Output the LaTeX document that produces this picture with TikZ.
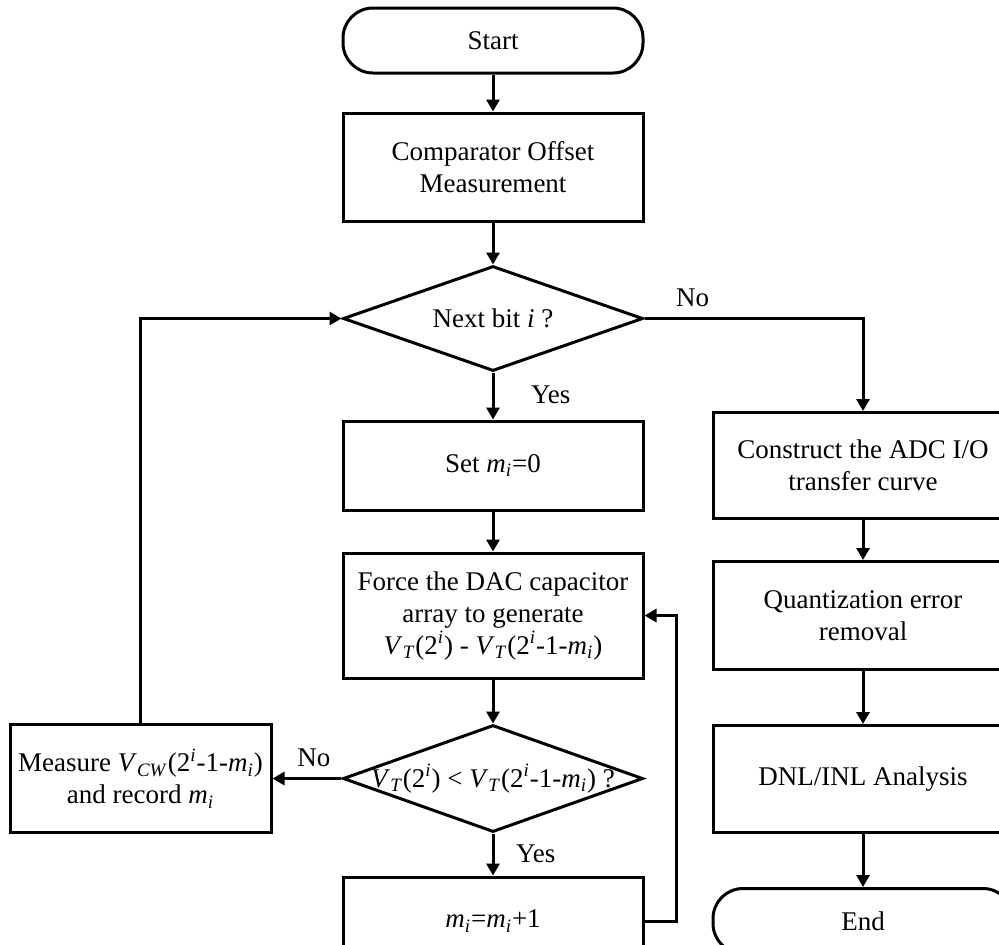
\documentclass[tikz,border=0pt]{standalone}
\usepackage{fontspec}
\setmainfont{Liberation Serif}
\usetikzlibrary{arrows.meta, positioning, shapes.geometric}

\newcommand{\mvar}{\textit{m}\textsubscript{\textit{i}}}
\newcommand{\vtvar}{\textit{V}\textsubscript{\textit{T}}}
\newcommand{\vcwvar}{\textit{V}\textsubscript{\textit{CW}}}
\newcommand{\twoi}{2\textsuperscript{\textit{i}}}

\begin{document}
\begin{tikzpicture}[line width=1.5pt, font=\fontsize{13.5}{16}\selectfont,
    procbox/.style={rectangle, draw, minimum width=150pt, inner sep=2pt, align=center},
    termbox/.style={rectangle, draw, rounded corners=15pt, minimum width=150pt, minimum height=32.5pt, align=center},
    decbox/.style={diamond, draw, minimum width=150pt, minimum height=52.5pt, shape aspect=2.86, inner xsep=-4pt, inner ysep=0pt, align=center},
    flow/.style={-{Triangle[length=6pt, width=6.5pt]}}]
    \useasboundingbox (0,0) rectangle (499.5pt,-472pt);
    \clip (0,0) rectangle (499.5pt,-472pt);

    % Start
    \node[termbox] (start) at (246.5pt,-20.25pt) {Start};

    % Offset measurement
    \node[procbox, minimum height=54pt, below=18.5pt of start] (offset) {Comparator Offset\\Measurement};
    \draw[flow] (start) -- (offset);

    % Bit loop
    \node[decbox, below=21pt of offset] (nextbit) {Next bit \textit{i} ?};
    \draw[flow] (offset) -- (nextbit);

    \node[procbox, minimum height=44.5pt, below=23.5pt of nextbit] (setm) {Set \mvar=0};
    \draw[flow] (nextbit) -- node[pos=0.47, right=15pt] {Yes} (setm);

    \node[procbox, minimum height=62.5pt, below=20pt of setm] (force) {Force the DAC capacitor\\array to generate\\\vtvar(\twoi) - \vtvar(\twoi-1-\mvar)};
    \draw[flow] (setm) -- (force);

    \node[decbox, minimum height=53.5pt, inner xsep=-17pt, below=22pt of force] (compare) {\vtvar(\twoi) < \vtvar(\twoi-1-\mvar) ?};
    \draw[flow] (force) -- (compare);

    \node[procbox, minimum height=44pt, below=21pt of compare] (incm) {\mvar=\mvar+1};
    \draw[flow] (compare) -- node[pos=0.48, right=7.5pt] {Yes} (incm);
    \draw[flow] (incm.east) -- ++(16pt,0) |- (force.east);

    \node[procbox, minimum width=130.5pt, minimum height=54pt, left=34.5pt of compare] (measure) {Measure \vcwvar(\twoi-1-\mvar)\\and record \mvar};
    \draw[flow] (compare) -- node[pos=0.4, above=2pt] {No} (measure);
    \draw[flow] (measure) |- (nextbit.west);

    % Curve and analysis
    \node[procbox, minimum height=53pt, right=33.5pt of setm] (curve) {Construct the ADC I/O\\transfer curve};
    \draw[flow] (nextbit.east) -| node[pos=0.11, above=2pt] {No} (curve.north);

    \node[procbox, minimum height=54pt, below=20pt of curve] (quant) {Quantization error\\removal};
    \draw[flow] (curve) -- (quant);

    \node[procbox, minimum height=53.5pt, below=26.5pt of quant] (dnl) {DNL/INL Analysis};
    \draw[flow] (quant) -- (dnl);

    % End
    \node[termbox, below=26.5pt of dnl] (end) {End};
    \draw[flow] (dnl) -- (end);
\end{tikzpicture}
\end{document}
